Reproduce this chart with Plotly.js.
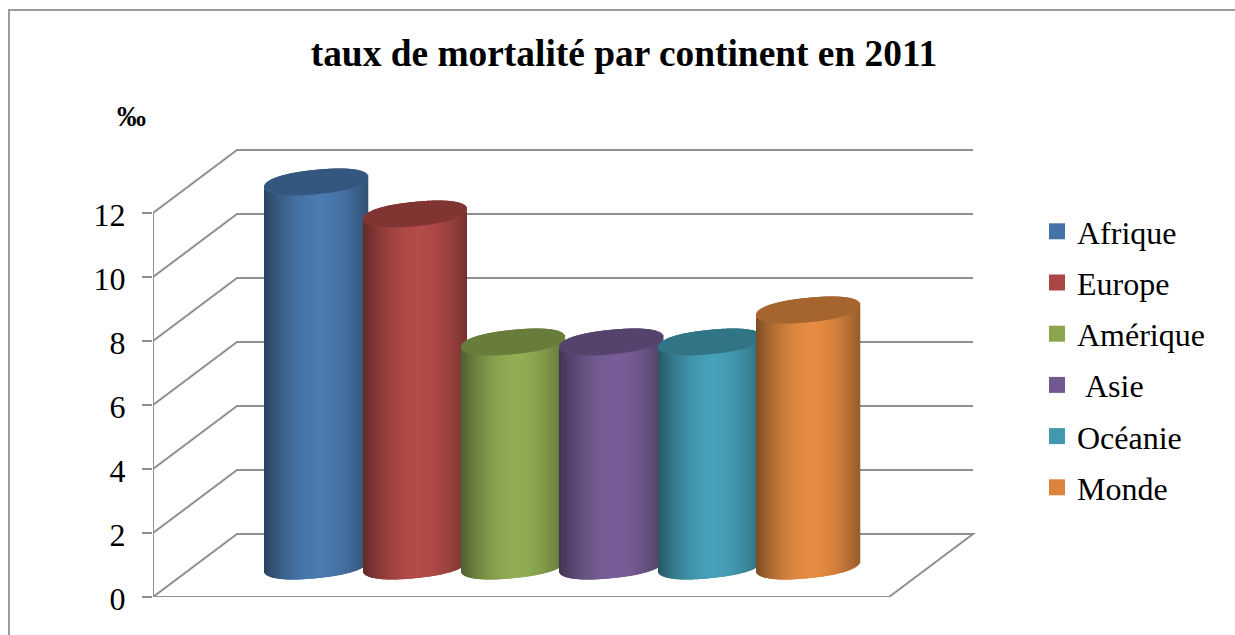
<!DOCTYPE html>
<html><head><meta charset="utf-8">
<script src="https://cdn.plot.ly/plotly-3.0.1.min.js"></script>
<style>html,body{margin:0;padding:0;background:#fff;overflow:hidden}#c{width:1235px;height:635px}</style>
</head><body><div id="c"></div><script>
const continents = ['Afrique','Europe','Amérique','\u00a0Asie','Océanie','Monde'];
const values = [12,11,7,7,7,8];
const colors = [[69,115,167],[170,70,67],[137,165,78],[113,88,143],[65,152,175],[219,132,61]];
const tickVals = [0,2,4,6,8,10,12];

const W=1235,H=635,FONT='"Liberation Serif","Times New Roman",serif',GRID='#8f8f8f';
const pxX=98.36,pxY=32,left=153,zeroY=597;
const depthX=84/pxX,depthY=63/pxY,floorEnd=736/pxX;
const firstCx=316.5-left, barW=103, semiB=12.2, tilt=5, baseY=31/pxY;
const xv=p=>p/pxX;
const traces=[], wall=[];

function path(xs,ys){
  const d=xs.map((x,i)=>(i?'L':'M')+x+','+ys[i]).join(' ');
  wall.push({type:'path',xref:'x',yref:'y',path:d,line:{color:GRID,width:2},layer:'below'});
}
tickVals.forEach(v=>{ if(v>0) path([0,depthX,floorEnd+depthX],[v,v+depthY,v+depthY]); });
path([0,floorEnd,floorEnd+depthX,depthX,0],[0,0,depthY,depthY,0]);
path([0,0],[0,12]);

function rgb(c,f,boost){return 'rgb('+c.map(k=>Math.min(255,Math.round(k*f+(boost||0)))).join(',')+')';}
values.forEach((val,i)=>{
  const cx=firstCx+i*98.4, xs=[],bases=[],hs=[],cols=[];
  const n=barW, body=[],cap=[];
  for(let k=0;k<n;k++){
    const px=-barW/2+k+.5,u=px/(barW/2),root=Math.pow(1-Math.pow(Math.abs(u),2.25),1/2.25);
    const low=(semiB*root-tilt*u)/pxY, up=(-semiB*root-tilt*u)/pxY;
    const t=Math.abs(u-.08)/1.08;
    const shade=1.04-0.48*Math.pow(t,1.9);
    body.push({x:xv(cx+px),b:baseY-low,h:val,c:rgb(colors[i],shade,2)});
    cap.push({x:xv(cx+px),b:baseY+val-low,h:low-up,c:rgb(colors[i],0.76)});
  }
  body.concat(cap).forEach(s=>{xs.push(s.x);bases.push(s.b);hs.push(s.h);cols.push(s.c);});
  traces.push({type:'bar',x:xs,y:hs,base:bases,width:1.6/pxX,name:continents[i],showlegend:false,hoverinfo:'skip',marker:{color:cols,line:{width:0}}});
});
continents.forEach((name,i)=>{
  traces.push({type:'scatter',mode:'markers',x:[null],y:[null],name:name,legendgroup:'g'+i,marker:{symbol:'square',size:16,color:rgb(colors[i],1),line:{width:0}}});
});

const frame={type:'rect',xref:'paper',yref:'paper',x0:9/W,x1:1.02,y0:-0.05,y1:1-10/H,line:{color:'#9c9c9c',width:2},fillcolor:'rgba(0,0,0,0)',layer:'below'};
const layout={
  width:W,height:H,margin:{l:0,r:0,t:0,b:0,pad:0},paper_bgcolor:'#fff',plot_bgcolor:'rgba(0,0,0,0)',
  barmode:'overlay',showlegend:true,
  title:{text:'<b>taux de mortalité par continent en 2011</b>',font:{family:FONT,size:37.4,color:'#000'},x:624/W,xref:'paper',xanchor:'center',y:1-53/H,yref:'paper',yanchor:'middle'},
  xaxis:{domain:[left/W,1],range:[0,(W-left)/pxX],visible:false,fixedrange:true},
  yaxis:{domain:[(H-zeroY)/H,(H-zeroY+14*pxY)/H],range:[0,14],tickmode:'array',tickvals:tickVals,ticktext:tickVals.map(String),ticks:'outside',ticklen:10,tickwidth:2,tickcolor:GRID,showline:false,showgrid:false,zeroline:false,ticklabelstandoff:10,ticklabelshift:2,tickfont:{family:FONT,size:32,color:'#000'},fixedrange:true},
  legend:{x:1037/W,xanchor:'left',y:1-204/H,yanchor:'top',font:{family:FONT,size:32,color:'#000'},tracegroupgap:6.6,bgcolor:'rgba(0,0,0,0)',itemclick:false,itemdoubleclick:false},
  shapes:[frame].concat(wall),
  annotations:[{xref:'paper',yref:'paper',x:131/W,y:1-116/H,text:'<b>‰</b>',showarrow:false,font:{family:FONT,size:29,color:'#000'},xanchor:'center',yanchor:'middle'}]
};
Plotly.newPlot('c',traces,layout,{displayModeBar:false});
</script></body></html>
